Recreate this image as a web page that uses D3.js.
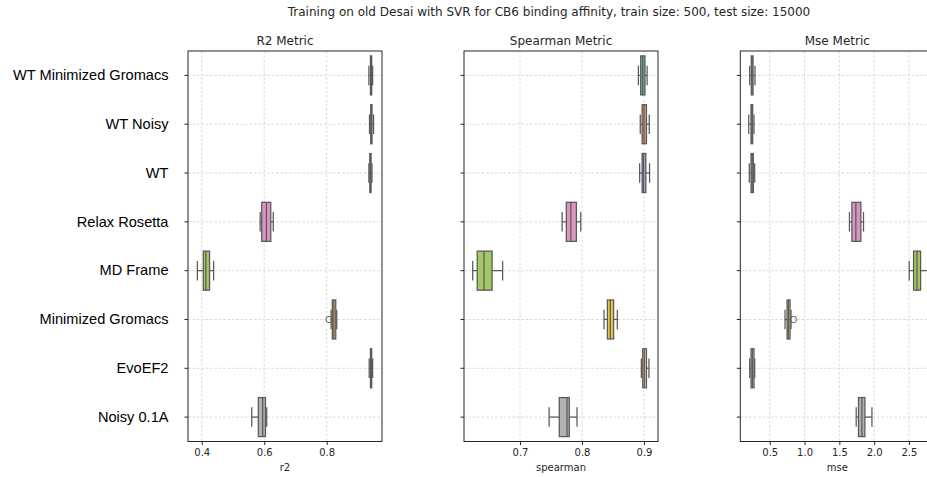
<!DOCTYPE html>
<html>
<head>
<meta charset="utf-8">
<script src="https://cdn.jsdelivr.net/npm/d3@7"></script>
<style>
  body { margin: 0; background: #fff; }
  svg { display: block; font-family: "DejaVu Sans", sans-serif; }
  .grid-line { stroke: #d2d2d2; stroke-width: 0.8; stroke-dasharray: 2.6 1.8; }
  .spine { fill: none; stroke: #262626; stroke-width: 1; }
  .tick-text { font-size: 10px; fill: #262626; }
  .axis-label { font-size: 10px; fill: #262626; }
  .panel-title { font-size: 12px; fill: #262626; }
  .cat-label { font-family: "Liberation Sans", Arial, sans-serif; font-size: 14.6px; fill: #000; }
</style>
</head>
<body>
<svg id="chart" width="927" height="477"></svg>
<script>
// ── DATA ────────────────────────────────────────────────────────────────
const categories = [
  "WT Minimized Gromacs", "WT Noisy", "WT", "Relax Rosetta",
  "MD Frame", "Minimized Gromacs", "EvoEF2", "Noisy 0.1A"
];

// [whisker low, q1, median, q3, whisker high]
const r2Stats = [
  [0.935, 0.940, 0.942, 0.944, 0.947],
  [0.937, 0.941, 0.943, 0.945, 0.950],
  [0.935, 0.938, 0.940, 0.942, 0.945],
  [0.587, 0.592, 0.607, 0.621, 0.629],
  [0.386, 0.405, 0.413, 0.425, 0.438],
  [0.814, 0.818, 0.823, 0.829, 0.832],
  [0.936, 0.940, 0.942, 0.944, 0.947],
  [0.560, 0.581, 0.595, 0.604, 0.608]
];
const spearmanStats = [
  [0.891, 0.8947, 0.898, 0.9016, 0.905],
  [0.894, 0.897, 0.900, 0.904, 0.9085],
  [0.893, 0.897, 0.899, 0.903, 0.909],
  [0.768, 0.7747, 0.782, 0.791, 0.798],
  [0.6237, 0.631, 0.642, 0.655, 0.672],
  [0.8355, 0.841, 0.8457, 0.851, 0.857],
  [0.8957, 0.898, 0.9005, 0.904, 0.908],
  [0.747, 0.7634, 0.7758, 0.7795, 0.792]
];
const mseStats = [
  [0.212, 0.235, 0.245, 0.260, 0.288],
  [0.198, 0.231, 0.242, 0.255, 0.274],
  [0.206, 0.231, 0.247, 0.265, 0.284],
  [1.645, 1.680, 1.737, 1.809, 1.847],
  [2.504, 2.566, 2.615, 2.667, 2.770],
  [0.720, 0.749, 0.768, 0.792, 0.806],
  [0.212, 0.231, 0.250, 0.274, 0.284],
  [1.742, 1.775, 1.824, 1.867, 1.968]
];

// outliers: [category index, value]
const r2Fliers = [[5, 0.808]];
const spearmanFliers = [];
const mseFliers = [[5, 0.84]];

const r2Ticks = [0.4, 0.6, 0.8];
const spearmanTicks = [0.7, 0.8, 0.9];
const mseTicks = [0.5, 1.0, 1.5, 2.0, 2.5];

const r2Domain = [0.356, 0.977];
const spearmanDomain = [0.6097, 0.9226];
const mseDomain = [0.077, 2.864];

// ── SETUP ───────────────────────────────────────────────────────────────
const svg = d3.select("#chart");
const plotTop = 51, plotBottom = 441.5, panelW = 194;
const edgeColor = "#595959";

// seaborn-style desaturated Set2
const colors = d3.schemeSet2.map((c) => {
  const h = d3.hsl(c);
  h.s *= 0.75;
  return h.formatHex();
});

const yScale = d3.scaleBand().domain(categories).range([plotTop, plotBottom]);
const boxH = yScale.bandwidth() * 0.8;

svg.append("text")
  .attr("class", "panel-title")
  .attr("x", 549)
  .attr("y", 12)
  .attr("text-anchor", "middle")
  .attr("dominant-baseline", "central")
  .text("Training on old Desai with SVR for CB6 binding affinity, train size: 500, test size: 15000");

const panels = [
  { left: 188, title: "R2 Metric", label: "r2", stats: r2Stats, fliers: r2Fliers, ticks: r2Ticks, domain: r2Domain, showCats: true },
  { left: 464, title: "Spearman Metric", label: "spearman", stats: spearmanStats, fliers: spearmanFliers, ticks: spearmanTicks, domain: spearmanDomain },
  { left: 740.3, title: "Mse Metric", label: "mse", stats: mseStats, fliers: mseFliers, ticks: mseTicks, domain: mseDomain }
];

panels.forEach((p) => {
  const x = d3.scaleLinear().domain(p.domain).range([p.left, p.left + panelW]);
  const g = svg.append("g");

  // grid lines
  g.append("g").selectAll("line")
    .data(p.ticks)
    .join("line")
    .attr("class", "grid-line")
    .attr("x1", (d) => x(d)).attr("x2", (d) => x(d))
    .attr("y1", plotTop).attr("y2", plotBottom);
  g.append("g").selectAll("line")
    .data(categories)
    .join("line")
    .attr("class", "grid-line")
    .attr("x1", p.left).attr("x2", p.left + panelW)
    .attr("y1", (d) => yScale(d) + yScale.bandwidth() / 2)
    .attr("y2", (d) => yScale(d) + yScale.bandwidth() / 2);

  // boxes
  p.stats.forEach((s, i) => {
    const cy = yScale(categories[i]) + yScale.bandwidth() / 2;
    const [wl, q1, med, q3, wh] = s;
    const bg = g.append("g")
      .attr("stroke", edgeColor)
      .attr("stroke-width", 1.25);
    bg.append("line").attr("x1", x(wl)).attr("x2", x(q1)).attr("y1", cy).attr("y2", cy);
    bg.append("line").attr("x1", x(q3)).attr("x2", x(wh)).attr("y1", cy).attr("y2", cy);
    bg.append("line").attr("x1", x(wl)).attr("x2", x(wl)).attr("y1", cy - boxH / 4).attr("y2", cy + boxH / 4);
    bg.append("line").attr("x1", x(wh)).attr("x2", x(wh)).attr("y1", cy - boxH / 4).attr("y2", cy + boxH / 4);
    bg.append("rect")
      .attr("x", x(q1)).attr("width", Math.max(x(q3) - x(q1), 0.5))
      .attr("y", cy - boxH / 2).attr("height", boxH)
      .attr("fill", colors[i]);
    bg.append("line").attr("x1", x(med)).attr("x2", x(med)).attr("y1", cy - boxH / 2).attr("y2", cy + boxH / 2);
  });

  // outliers
  g.append("g").selectAll("circle")
    .data(p.fliers)
    .join("circle")
    .attr("cx", (d) => x(d[1]))
    .attr("cy", (d) => yScale(categories[d[0]]) + yScale.bandwidth() / 2)
    .attr("r", 3.2)
    .attr("fill", "none")
    .attr("stroke", edgeColor)
    .attr("stroke-width", 1);

  // spines
  g.append("rect")
    .attr("class", "spine")
    .attr("x", p.left).attr("y", plotTop)
    .attr("width", panelW).attr("height", plotBottom - plotTop);

  // x axis
  const xAxis = g.append("g")
    .attr("transform", `translate(0,${plotBottom})`)
    .call(d3.axisBottom(x).tickValues(p.ticks).tickFormat(d3.format(".1f")).tickSize(3.5).tickPadding(3.5));
  xAxis.select(".domain").remove();
  xAxis.selectAll("line").attr("stroke", "#262626");
  xAxis.selectAll("text").attr("class", "tick-text");
  xAxis.attr("font-family", null).attr("font-size", null);

  // y axis
  const yAxis = g.append("g")
    .attr("transform", `translate(${p.left},0)`)
    .call(d3.axisLeft(yScale).tickSize(3.5).tickPadding(16));
  yAxis.select(".domain").remove();
  yAxis.selectAll("line").attr("stroke", "#262626");
  yAxis.attr("font-family", null).attr("font-size", null);
  if (p.showCats) {
    yAxis.selectAll("text").attr("class", "cat-label");
  } else {
    yAxis.selectAll("text").remove();
  }

  g.append("text")
    .attr("class", "panel-title")
    .attr("x", p.left + panelW / 2)
    .attr("y", 41)
    .attr("text-anchor", "middle")
    .attr("dominant-baseline", "central")
    .text(p.title);

  g.append("text")
    .attr("class", "axis-label")
    .attr("x", p.left + panelW / 2)
    .attr("y", 467)
    .attr("text-anchor", "middle")
    .attr("dominant-baseline", "central")
    .text(p.label);
});
</script>
</body>
</html>
